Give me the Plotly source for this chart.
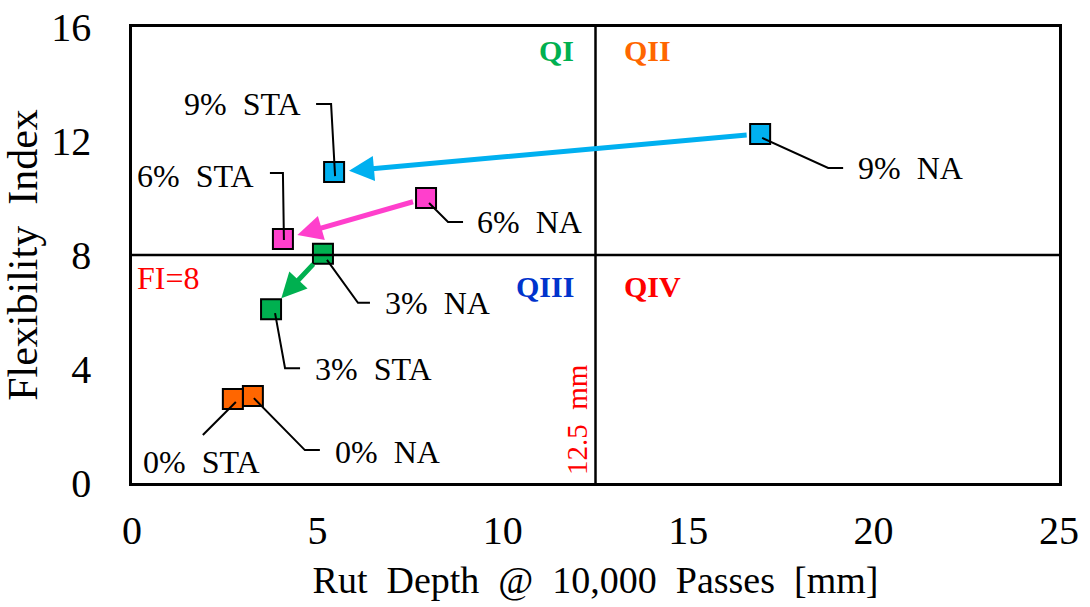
import plotly.graph_objects as go

# ---- data ----
contents = ["0%", "3%", "6%", "9%"]
na_rut = [3.26, 5.15, 7.93, 16.94]
na_fi = [3.05, 8.04, 10.0, 12.25]
sta_rut = [2.72, 3.75, 4.07, 5.45]
sta_fi = [2.95, 6.10, 8.56, 10.91]
colors = ["#FF6600", "#00B050", "#FF3FCC", "#00B0F0"]
x_ticks = [0, 5, 10, 15, 20, 25]
y_ticks = [0, 4, 8, 12, 16]
rut_limit = 12.5
fi_limit = 8

FONT = "Times New Roman, Liberation Serif, serif"

# leader-line pixel paths (dx, dy with y down) and label offsets
na_leader = [
    [(1, 2), (52, 54), (67, 54)],
    [(4, 6), (35, 49), (47, 49)],
    [(3, 5), (22, 24), (37, 24)],
    [(2, 4), (68, 34), (83, 34)],
]
na_label = [(80, 56, "left"), (60, 49, "left"), (49, 24, "left"), (96, 34, "left")]
sta_leader = [
    [(3, 3), (-30, 36)],
    [(4, 4), (14, 59), (29, 59)],
    [(1, 1), (0, -66), (-13, -66)],
    [(1, 4), (-3, -68), (-18, -68)],
]
sta_label = [(-31, 63, "center"), (42, 60, "left"), (-27, -63, "right"), (-31, -68, "right")]

fig = go.Figure()

shapes = []
annotations = []

# quadrant lines
shapes.append(dict(type="line", xref="x", yref="paper", x0=rut_limit, x1=rut_limit, y0=0, y1=1,
                   line=dict(color="black", width=2.5)))
shapes.append(dict(type="line", xref="paper", yref="y", x0=0, x1=1, y0=fi_limit, y1=fi_limit,
                   line=dict(color="black", width=2.5)))


def leader(xd, yd, pts):
    path = "M " + " L ".join(f"{dx},{-dy}" for dx, dy in pts)
    return dict(type="path", xref="x", yref="y", xsizemode="pixel", ysizemode="pixel",
                xanchor=xd, yanchor=yd, path=path, line=dict(color="black", width=2))


for i, c in enumerate(contents):
    # arrows from NA to STA
    annotations.append(dict(x=sta_rut[i], y=sta_fi[i], ax=na_rut[i], ay=na_fi[i],
                            xref="x", yref="y", axref="x", ayref="y", text="",
                            showarrow=True, arrowhead=2, arrowsize=1.0, arrowwidth=5,
                            arrowcolor=colors[i], standoff=15, startstandoff=12))
    shapes.append(leader(na_rut[i], na_fi[i], na_leader[i]))
    shapes.append(leader(sta_rut[i], sta_fi[i], sta_leader[i]))
    dx, dy, anc = na_label[i]
    annotations.append(dict(x=na_rut[i], y=na_fi[i], xref="x", yref="y", text=f"{c}  NA",
                            showarrow=False, xshift=dx, yshift=-dy, xanchor=anc, yanchor="middle",
                            font=dict(size=32, color="black", family=FONT)))
    dx, dy, anc = sta_label[i]
    annotations.append(dict(x=sta_rut[i], y=sta_fi[i], xref="x", yref="y", text=f"{c}  STA",
                            showarrow=False, xshift=dx, yshift=-dy, xanchor=anc, yanchor="middle",
                            font=dict(size=32, color="black", family=FONT)))

# markers (drawn above arrows)
for i, c in enumerate(contents):
    fig.add_trace(go.Scatter(x=[na_rut[i], sta_rut[i]], y=[na_fi[i], sta_fi[i]], mode="markers",
                             marker=dict(symbol="square", size=20, color=colors[i],
                                         line=dict(color="black", width=2)),
                             showlegend=False, cliponaxis=False))

# quadrant labels
quad = [("QI", "#00B050", rut_limit, 16, "right", -20, -23),
        ("QII", "#FF6600", rut_limit, 16, "left", 26, -23),
        ("QIII", "#0033CC", rut_limit, fi_limit, "right", -20, -31),
        ("QIV", "#FF0000", rut_limit, fi_limit, "left", 26, -31)]
for t, col, xq, yq, anc, xs, ys in quad:
    annotations.append(dict(x=xq, y=yq, xref="x", yref="y", text=f"<b>{t}</b>", showarrow=False,
                            xanchor=anc, yanchor="middle", xshift=xs, yshift=ys,
                            font=dict(size=30, color=col, family=FONT)))

annotations.append(dict(x=0, y=fi_limit, xref="x", yref="y", text="FI=8", showarrow=False,
                        xanchor="left", yanchor="middle", xshift=3, yshift=-23,
                        font=dict(size=32, color="#FF0000", family=FONT)))
annotations.append(dict(x=rut_limit, y=0, xref="x", yref="y", text="12.5  mm", showarrow=False,
                        textangle=-90, xanchor="center", yanchor="bottom", xshift=-19, yshift=6,
                        font=dict(size=29, color="#FF0000", family=FONT)))

fig.update_layout(
    width=1090, height=607,
    margin=dict(l=132, r=31, t=27, b=124),
    paper_bgcolor="white", plot_bgcolor="white",
    font=dict(family=FONT, color="black"),
    shapes=shapes, annotations=annotations,
    xaxis=dict(range=[0, 25], tickvals=x_ticks, showgrid=False, zeroline=False,
               showline=True, linecolor="black", linewidth=2.5, mirror=True, ticks="",
               ticklabelstandoff=10, automargin=False,
               tickfont=dict(size=40, family=FONT, color="black"),
               title=dict(text="Rut  Depth  @  10,000  Passes  [mm]", standoff=15,
                          font=dict(size=38, family=FONT, color="black"))),
    yaxis=dict(range=[0, 16], tickvals=y_ticks, showgrid=False, zeroline=False,
               showline=True, linecolor="black", linewidth=2.5, mirror=True, ticks="",
               ticklabelstandoff=30, automargin=False,
               tickfont=dict(size=40, family=FONT, color="black"),
               title=dict(text="Flexibility  Index", standoff=10,
                          font=dict(size=42, family=FONT, color="black"))),
)

fig.write_html("out.html")
